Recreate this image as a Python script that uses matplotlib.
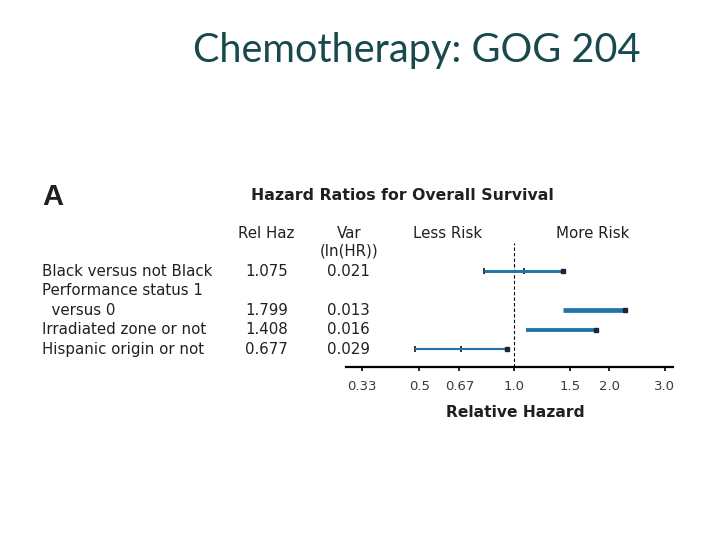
import matplotlib
matplotlib.use("Agg")
import matplotlib.pyplot as plt
import matplotlib.transforms as mtransforms

# data
labels = ["Black versus not Black", "Performance status 1", "  versus 0",
          "Irradiated zone or not", "Hispanic origin or not"]
label_rows = [0, 1, 2, 3, 4]
rel_haz = ["1.075", "", "1.799", "1.408", "0.677"]
var_lnhr = ["0.021", "", "0.013", "0.016", "0.029"]

bar_rows = [0, 2, 3, 4]
hr = [1.075, 1.799, 1.408, 0.677]
var = [0.021, 0.013, 0.016, 0.029]
ci_low = [0.80, 1.43, 1.09, 0.484]
ci_high = [1.43, 2.25, 1.82, 0.946]

tick_vals = [0.33, 0.5, 0.67, 1.0, 1.5, 2.0, 3.0]
tick_labels = ["0.33", "0.5", "0.67", "1.0", "1.5", "2.0", "3.0"]

TXT = "#231f20"
BAR = "#1f74a8"
CAP = "#1c2535"
W, H = 720.0, 540.0

fig = plt.figure(figsize=(7.2, 5.4), dpi=100)
fig.patch.set_facecolor("white")

# slide title
fig.text(416.5 / W, 1 - 62 / H, "Chemotherapy: GOG 204", family="Lato",
         fontsize=28.5, color="#17494d", ha="center", va="baseline")

ax = fig.add_axes([346 / W, 1 - 366.7 / H, 327.3 / W, 124 / H])
ax.set_xscale("log")
ax.set_xlim(0.293, 3.19)
ax.set_ylim(4.9, -1.45)

for i in range(len(hr)):
    y = bar_rows[i]
    lw = min(0.044 / var[i], 3.4)
    ax.plot([ci_low[i], ci_high[i]], [y, y], color=BAR, lw=lw,
            solid_capstyle="butt", zorder=3)
    if lw < 2.5:
        # thin bars show the end and estimate ticks
        ax.plot([ci_low[i], hr[i]], [y, y], ls="none", marker="|", ms=4.2,
                mew=1.3, color=CAP, zorder=2)
    ax.plot([ci_high[i]], [y], ls="none", marker="s", ms=2.8, color=CAP,
            zorder=4)

ax.axvline(1.0, color="black", lw=0.8, ls=(0, (3, 2)), zorder=1)

for s in ["top", "right", "left"]:
    ax.spines[s].set_visible(False)
ax.spines["bottom"].set_linewidth(1.6)
ax.set_yticks([])
ax.set_xticks(tick_vals)
ax.set_xticklabels(tick_labels)
ax.minorticks_off()
ax.tick_params(axis="x", length=3.2, width=1.2, pad=6.5, labelsize=9.5,
               labelcolor="#3a3a3a")

# table on the left, rows follow the axes' data y
trans = mtransforms.blended_transform_factory(fig.transFigure, ax.transData)
for i in range(len(labels)):
    y = label_rows[i]
    ax.text(42 / W, y, labels[i], transform=trans, fontsize=10.8, color=TXT,
            ha="left", va="center")
    ax.text(266.7 / W, y, rel_haz[i], transform=trans, fontsize=10.8,
            color=TXT, ha="center", va="center")
    ax.text(348.3 / W, y, var_lnhr[i], transform=trans, fontsize=10.8,
            color=TXT, ha="center", va="center")

fig.text(42 / W, 1 - 205 / H, "A", fontsize=21, weight="bold", color=TXT,
         family="Liberation Sans", ha="left", va="baseline")
fig.text(402.2 / W, 1 - 195.7 / H, "Hazard Ratios for Overall Survival",
         fontsize=11.3, weight="bold", color=TXT, ha="center", va="center")
fig.text(266.5 / W, 1 - 233 / H, "Rel Haz", fontsize=10.8, color=TXT,
         ha="center", va="center")
fig.text(349.5 / W, 1 - 233 / H, "Var", fontsize=10.8, color=TXT,
         ha="center", va="center")
fig.text(349 / W, 1 - 251 / H, "(ln(HR))", fontsize=10.8, color=TXT,
         ha="center", va="center")
fig.text(447.2 / W, 1 - 233 / H, "Less Risk", fontsize=10.8, color=TXT,
         ha="center", va="center")
fig.text(592.5 / W, 1 - 233 / H, "More Risk", fontsize=10.8, color=TXT,
         ha="center", va="center")
fig.text(515.5 / W, 1 - 412.3 / H, "Relative Hazard", fontsize=11.2,
         weight="bold", color=TXT, ha="center", va="center")

fig.savefig("out.png", dpi=100)
